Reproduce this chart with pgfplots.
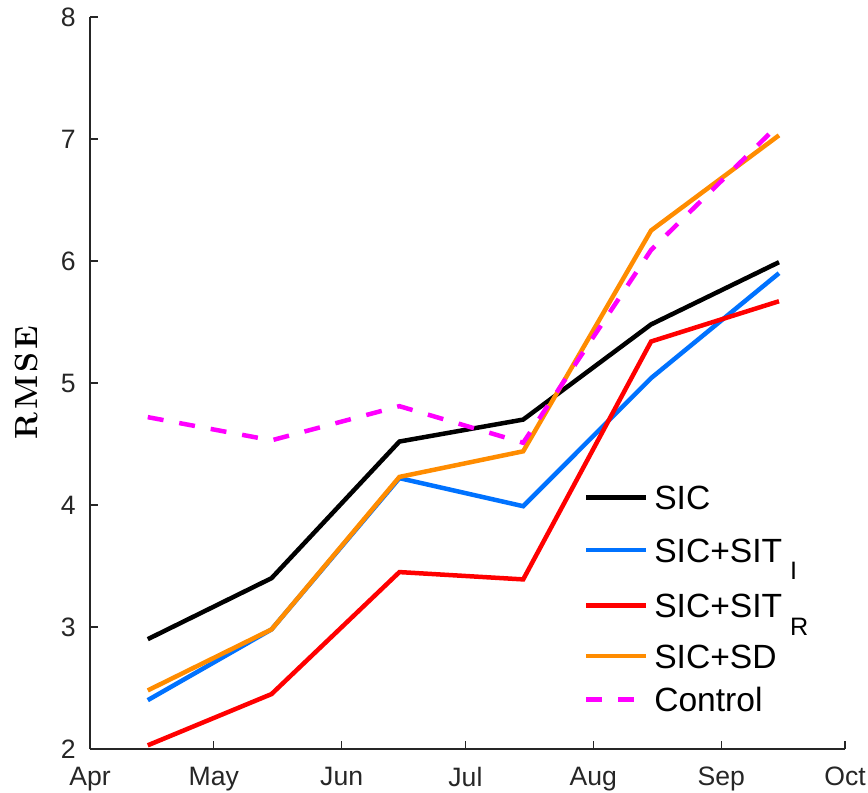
\documentclass[border=0pt]{standalone}
\usepackage{pgfplots}
\pgfplotsset{compat=1.18}
\usepackage{fontspec}
\setsansfont{Liberation Sans}
\definecolor{cblue}{RGB}{0,114,255}
\definecolor{corange}{RGB}{255,140,0}
\definecolor{cmag}{RGB}{255,0,255}
\definecolor{axgray}{RGB}{38,38,38}
\newcommand{\sub}[1]{\hspace{4pt}\raisebox{-8.75pt}{\fontsize{12.6}{14}\selectfont #1}}
\begin{document}
\begin{tikzpicture}
\begin{axis}[
  name=ax,
  scale only axis, width=377.5pt, height=366pt,
  xmin=0, xmax=183, ymin=2, ymax=8,
  axis x line*=bottom, axis y line*=left,
  axis line style={axgray, line width=0.6pt, -},
  xtick={0,30,61,91,122,153,183},
  xticklabels={Apr,May,Jun,Jul,Aug,Sep,Oct},
  ytick={2,3,4,5,6,7,8},
  tick align=inside, major tick length=4pt,
  tick style={axgray, line width=0.6pt},
  /pgf/number format/assume math mode=true,
  ticklabel style={font=\sffamily\fontsize{13.3}{16}\selectfont, text=axgray},
  xticklabel style={anchor=north, inner sep=0pt, yshift=-9pt},
  yticklabel style={anchor=east, inner sep=0pt, xshift=-7pt},
  ylabel={\textbf{R\kern1.5pt M\kern1.5pt S\kern1.5pt E}},
  every axis y label/.style={at={(axis description cs:0,0.5)}, xshift=-31.5pt, rotate=90, anchor=center, font=\rmfamily\fontsize{16}{18}\selectfont},
  legend style={draw=none, fill=none, inner sep=0pt, outer sep=0pt,
    at={(axis description cs:0.654,0.359)}, anchor=north west,
    font=\sffamily\fontsize{16.8}{18}\selectfont, row sep=0pt, column sep=0pt,
    cells={anchor=base west},
    nodes={inner sep=0pt, outer sep=0pt, text depth=, text height=}},
  legend image code/.code={\draw (0pt,6pt) -- (30pt,6pt);},
  every axis plot/.append style={line width=2.25pt},
]
\addplot[black] coordinates {(14,2.90) (44,3.40) (75,4.52) (105,4.70) (136,5.48) (167,5.99)};
\addlegendentry{\hspace{3pt}\rule[-14.5pt]{0pt}{12.5pt}SIC}
\addplot[cblue] coordinates {(14,2.40) (44,2.98) (75,4.22) (105,3.99) (136,5.04) (167,5.90)};
\addlegendentry{\hspace{3pt}\rule[-16pt]{0pt}{12.5pt}SIC+SIT\sub{I}}
\addplot[red] coordinates {(14,2.03) (44,2.45) (75,3.45) (105,3.39) (136,5.34) (167,5.67)};
\addlegendentry{\hspace{3pt}\rule[-13.5pt]{0pt}{12.5pt}SIC+SIT\sub{R}}
\addplot[corange] coordinates {(14,2.48) (44,2.98) (75,4.23) (105,4.44) (136,6.25) (167,7.03)};
\addlegendentry{\hspace{3pt}\rule[-9.5pt]{0pt}{12.5pt}SIC+SD}
\addplot[cmag, dash pattern=on 8pt off 8pt] coordinates {(14,4.72) (44,4.53) (75,4.81) (105,4.51) (136,6.09) (167,7.12)};
\addlegendentry{\hspace{3pt}\rule[-3pt]{0pt}{12.5pt}Control}
\end{axis}
\pgfresetboundingbox
\path[use as bounding box] ([shift={(-45pt,-22pt)}]ax.south west) rectangle ([shift={(11.5pt,8.5pt)}]ax.north east);
\end{tikzpicture}
\end{document}
